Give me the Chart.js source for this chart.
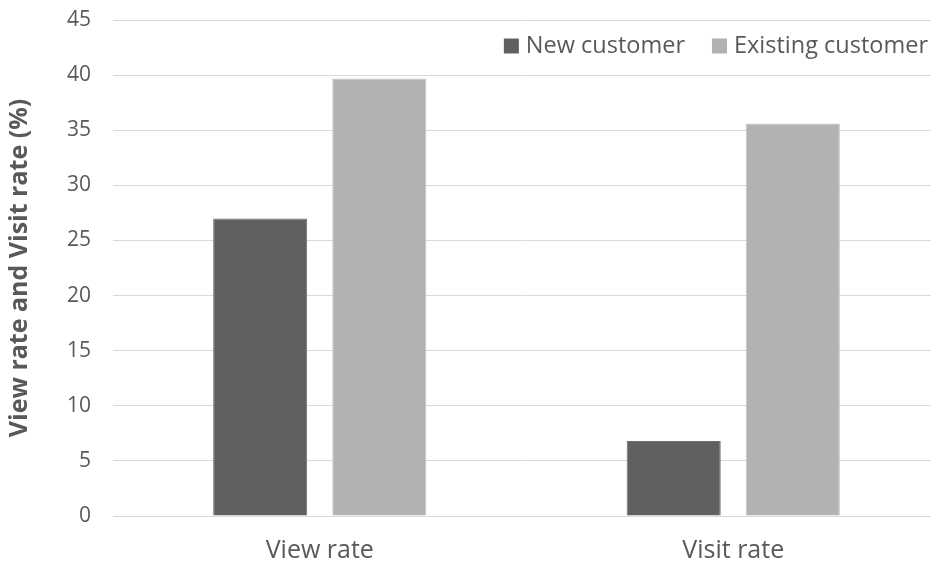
<!DOCTYPE html>
<html>
<head>
<meta charset="utf-8">
<script src="https://cdn.jsdelivr.net/npm/chart.js@4/dist/chart.umd.min.js"></script>
<style>
    html, body { margin: 0; padding: 0; background: #fff; overflow: hidden; }
    #wrap { width: 940px; height: 562px; }
</style>
</head>
<body>
<div id="wrap"><canvas id="rateChart"></canvas></div>
<script>
const categories = ['View rate', 'Visit rate'];
const newCustomer = [27.0, 6.8];
const existingCustomer = [39.7, 35.6];
const yTicks = [0, 5, 10, 15, 20, 25, 30, 35, 40, 45];

const FONT = '"Open Sans", sans-serif';
const TEXT = '#595959';

// legend drawn inside the plot, top right (like the original)
const innerLegend = {
    id: 'innerLegend',
    afterDraw(chart) {
        const ctx = chart.ctx;
        const area = chart.chartArea;
        const box = 15, gap = 7, spacing = 27;
        const y = area.top + 26;
        ctx.save();
        ctx.font = '23.5px ' + FONT;
        ctx.textBaseline = 'middle';
        let x = chart.width - 12;
        const items = chart.data.datasets.slice().reverse();
        items.forEach(ds => {
            const w = ctx.measureText(ds.label).width;
            x -= w;
            ctx.fillStyle = TEXT;
            ctx.fillText(ds.label, x, y);
            x -= gap + box;
            ctx.fillStyle = ds.backgroundColor;
            ctx.fillRect(x, y - box / 2, box, box);
            x -= spacing;
        });
        ctx.restore();
    }
};

const canvas = document.getElementById('rateChart');
new Chart(canvas.getContext('2d'), {
    type: 'bar',
    data: {
        labels: categories,
        datasets: [{
            label: 'New customer',
            data: newCustomer,
            backgroundColor: '#606060',
            borderColor: '#6e6e6e',
            borderWidth: 1
        }, {
            label: 'Existing customer',
            data: existingCustomer,
            backgroundColor: '#b2b2b2',
            borderColor: '#c4c4c4',
            borderWidth: 1
        }]
    },
    options: {
        responsive: true,
        maintainAspectRatio: false,
        animation: false,
        layout: { autoPadding: false, padding: { top: 20, left: 0, right: 0, bottom: 0 } },
        datasets: { bar: { categoryPercentage: 0.576, barPercentage: 0.79 } },
        plugins: {
            tooltip: { enabled: false },
            legend: { display: false }
        },
        scales: {
            x: {
                grid: { display: false, drawTicks: false },
                border: { color: '#d9d9d9', width: 1 },
                ticks: { font: { family: FONT, size: 25 }, color: TEXT, padding: 20 },
                afterFit: axis => { axis.height = 46; }
            },
            y: {
                min: 0,
                max: 45,
                afterBuildTicks: axis => { axis.ticks = yTicks.map(v => ({ value: v })); },
                grid: { color: '#d9d9d9', lineWidth: 1, drawTicks: false },
                border: { display: false },
                ticks: { font: { family: FONT, size: 21 }, color: TEXT, padding: 22 },
                title: {
                    display: true,
                    text: 'View rate and Visit rate (%)',
                    font: { family: FONT, size: 25, weight: 'bold' },
                    color: TEXT,
                    padding: { top: 5, bottom: 0 }
                },
                afterFit: axis => {
                    axis.width = 113;
                    axis.paddingTop = 0;
                    axis.paddingBottom = 0;
                }
            }
        }
    },
    plugins: [innerLegend]
});
</script>
</body>
</html>
